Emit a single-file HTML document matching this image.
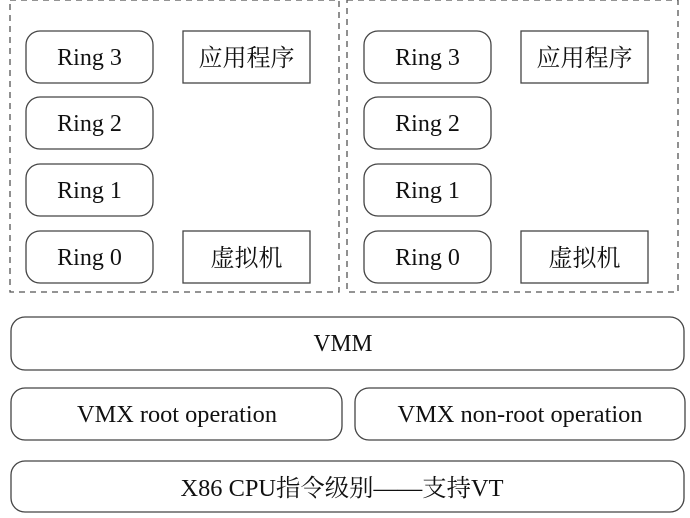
<!DOCTYPE html>
<html><head><meta charset="utf-8"><style>
html,body{margin:0;padding:0;background:#fff;width:690px;height:518px;overflow:hidden}
text{font-family:"Liberation Serif","Noto Serif CJK SC","Noto Sans CJK SC",serif;font-size:24px;fill:#111}
</style></head><body>
<svg width="690" height="518" xmlns="http://www.w3.org/2000/svg">
<g fill="none" stroke="#555" stroke-width="1.3" stroke-dasharray="6,5">
<rect x="10" y="0" width="329" height="292"/>
<rect x="347" y="0" width="331" height="292"/>
</g>
<g fill="#fff" stroke="#444" stroke-width="1.3">
<rect x="26" y="31" width="127" height="52" rx="14"/>
<rect x="26" y="97" width="127" height="52" rx="14"/>
<rect x="26" y="164" width="127" height="52" rx="14"/>
<rect x="26" y="231" width="127" height="52" rx="14"/>
<rect x="183" y="31" width="127" height="52"/>
<rect x="183" y="231" width="127" height="52"/>
<rect x="364" y="31" width="127" height="52" rx="14"/>
<rect x="364" y="97" width="127" height="52" rx="14"/>
<rect x="364" y="164" width="127" height="52" rx="14"/>
<rect x="364" y="231" width="127" height="52" rx="14"/>
<rect x="521" y="31" width="127" height="52"/>
<rect x="521" y="231" width="127" height="52"/>
<rect x="11" y="317" width="673" height="53" rx="14"/>
<rect x="11" y="388" width="331" height="52" rx="14"/>
<rect x="355" y="388" width="330" height="52" rx="14"/>
<rect x="11" y="461" width="673" height="51" rx="14"/>
</g>
<g text-anchor="middle">
<text x="89.5" y="65">Ring 3</text>
<text x="89.5" y="131">Ring 2</text>
<text x="89.5" y="198">Ring 1</text>
<text x="89.5" y="265">Ring 0</text>
<text x="246.5" y="66">应用程序</text>
<text x="246.5" y="266">虚拟机</text>
<text x="427.5" y="65">Ring 3</text>
<text x="427.5" y="131">Ring 2</text>
<text x="427.5" y="198">Ring 1</text>
<text x="427.5" y="265">Ring 0</text>
<text x="584.5" y="66">应用程序</text>
<text x="584.5" y="266">虚拟机</text>
<text x="343" y="351" textLength="59" lengthAdjust="spacingAndGlyphs">VMM</text>
<text x="177" y="422" textLength="200" lengthAdjust="spacingAndGlyphs">VMX root operation</text>
<text x="520" y="422" textLength="245" lengthAdjust="spacingAndGlyphs">VMX non-root operation</text>
<text x="342" y="496" textLength="323" lengthAdjust="spacingAndGlyphs">X86 CPU指令级别——支持VT</text>
</g>
</svg>
</body></html>
